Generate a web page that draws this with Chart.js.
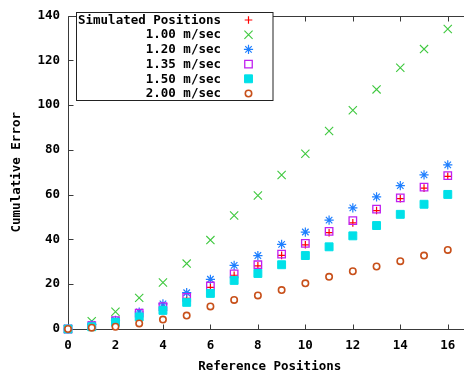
<!DOCTYPE html>
<html>
<head>
<meta charset="utf-8">
<script src="https://cdn.jsdelivr.net/npm/chart.js@4/dist/chart.umd.min.js"></script>
<style>
html,body{margin:0;padding:0;overflow:hidden;background:#fff;width:464px;height:378px;}
#wrap{position:absolute;left:0;top:0;width:480px;height:378px;}
</style>
</head>
<body>
<div id="wrap"><canvas id="c" width="480" height="378"></canvas></div>
<script>
// ---- data ----
const xValues   = [0,1,2,3,4,5,6,7,8,9,10,11,12,13,14,15,16];
const simulated = [0,1.3,3.3,6.8,9.7,13.7,18.6,24.0,28.2,32.9,37.6,43.0,47.4,52.9,58.2,62.9,68.2];
const speed100  = [0,3.5,7.7,13.9,20.8,29.2,39.7,50.7,59.6,68.8,78.3,88.4,97.7,107.0,116.7,125.0,134.0];
const speed120  = [0,2.0,3.9,7.6,11.2,16.2,22.2,28.4,32.8,37.8,43.3,48.6,54.1,59.0,64.0,68.8,73.3];
const speed135  = [0,1.5,3.7,7.1,10.0,14.1,19.2,24.6,28.7,33.4,38.2,43.6,48.4,53.5,58.6,63.4,68.5];
const speed150  = [0,1.0,3.0,5.4,8.3,11.9,15.9,21.7,24.8,28.7,32.8,36.7,41.6,46.2,51.2,55.7,60.1];
const speed200  = [0,0.6,1.0,2.5,4.2,6.0,10.1,13.0,15.0,17.4,20.4,23.3,25.8,27.9,30.3,32.8,35.3];
const seriesLabels = ['Simulated Positions','1.00 m/sec','1.20 m/sec','1.35 m/sec','1.50 m/sec','2.00 m/sec'];
const xTicks = [0,2,4,6,8,10,12,14,16];
const yTicks = [0,20,40,60,80,100,120,140];

const FONT = "'DejaVu Sans Mono','Liberation Mono',monospace";
const fontSpec = {family: FONT, size: 12.5, weight: 'bold'};

const series = [simulated, speed100, speed120, speed135, speed150, speed200];
const styles = [
  {pointStyle:'cross',    radius:3.8, border:'#ff0000', bg:'rgba(0,0,0,0)', bw:1.2},
  {pointStyle:'crossRot', radius:5.8, border:'#3ec83e', bg:'rgba(0,0,0,0)', bw:1.1},
  {pointStyle:'star',     radius:4.6, border:'#1e7fff', bg:'rgba(0,0,0,0)', bw:1.2},
  {pointStyle:'rect',     radius:5.3, border:'#c020f0', bg:'rgba(0,0,0,0)', bw:1.3},
  {pointStyle:'rect',     radius:5.6, border:'#00e0e8', bg:'#00e0e8', bw:1},
  {pointStyle:'circle',   radius:3.2, border:'#c8501a', bg:'#ffffff', bw:1.6}
];

const datasets = series.map((vals, i) => ({
  label: seriesLabels[i],
  data: xValues.map((x, k) => ({x: x, y: vals[k]})),
  showLine: false,
  pointStyle: styles[i].pointStyle,
  pointRadius: styles[i].radius,
  pointBorderColor: styles[i].border,
  pointBackgroundColor: styles[i].bg,
  pointBorderWidth: styles[i].bw,
  borderColor: styles[i].border,
  backgroundColor: styles[i].bg,
  order: series.length - i,
  clip: false
}));

function drawMarker(ctx, st, x, y) {
  ctx.save();
  ctx.strokeStyle = st.border;
  ctx.fillStyle = st.bg;
  ctx.lineWidth = st.bw;
  if (Chart.helpers && Chart.helpers.drawPoint) {
    Chart.helpers.drawPoint(ctx, {pointStyle: st.pointStyle, rotation: 0, radius: st.radius, borderWidth: st.bw}, x, y);
  }
  ctx.restore();
}

const framePlugin = {
  id: 'frame',
  beforeDatasetsDraw(chart) {
    const {ctx, chartArea: a, scales} = chart;
    ctx.save();
    ctx.strokeStyle = '#3a3a3a';
    ctx.lineWidth = 1;
    const L = Math.round(a.left) + 0.5, R = Math.round(a.right) + 0.5;
    const T = Math.round(a.top) + 0.5, B = Math.round(a.bottom) + 0.5;
    ctx.beginPath();
    ctx.rect(L, T, R - L, B - T);
    const tl = 5;
    xTicks.forEach(v => {
      const px = Math.round(scales.x.getPixelForValue(v)) + 0.5;
      ctx.moveTo(px, B); ctx.lineTo(px, B - tl);
      ctx.moveTo(px, T); ctx.lineTo(px, T + tl);
    });
    yTicks.forEach(v => {
      const py = Math.round(scales.y.getPixelForValue(v)) + 0.5;
      ctx.moveTo(L, py); ctx.lineTo(L + tl, py);
      ctx.moveTo(R, py); ctx.lineTo(R - tl, py);
    });
    ctx.stroke();
    ctx.restore();
  },
  afterDraw(chart) {
    const {ctx} = chart;
    ctx.save();
    const bx = 76.5, by = 12.5, bw = 196.5, bh = 88;
    ctx.fillStyle = '#ffffff';
    ctx.fillRect(bx, by, bw, bh);
    ctx.strokeStyle = '#222';
    ctx.lineWidth = 1;
    ctx.strokeRect(bx, by, bw, bh);
    ctx.font = 'bold 12.5px ' + FONT;
    ctx.fillStyle = '#000';
    ctx.textAlign = 'right';
    ctx.textBaseline = 'middle';
    chart.data.datasets.forEach((ds, i) => {
      const y = 20 + i * 14.7;
      ctx.fillText(ds.label, 221, y + 0.5);
      drawMarker(ctx, styles[i], 248.5, y);
    });
    ctx.restore();
  }
};

new Chart(document.getElementById('c'), {
  type: 'scatter',
  data: {datasets},
  plugins: [framePlugin],
  options: {
    responsive: false,
    animation: false,
    devicePixelRatio: 1,
    layout: {padding: {top: 8.7, right: 8.5, left: 0, bottom: 0}},
    plugins: {legend: {display: false}, tooltip: {enabled: false}},
    scales: {
      x: {
        type: 'linear', min: 0, max: 17,
        grid: {display: false, drawTicks: false},
        border: {display: false},
        afterBuildTicks: s => { s.ticks = xTicks.map(v => ({value: v})); },
        afterFit: s => { s.height = 49; },
        ticks: {color: '#000', font: fontSpec, padding: 9, maxRotation: 0, autoSkip: false},
        title: {display: true, text: 'Reference Positions', color: '#000', font: fontSpec, padding: {top: 0, bottom: 4}}
      },
      y: {
        type: 'linear', min: 0, max: 140,
        grid: {display: false, drawTicks: false},
        border: {display: false},
        afterBuildTicks: s => { s.ticks = yTicks.map(v => ({value: v})); },
        afterFit: s => { s.width = 68; },
        ticks: {color: '#000', font: fontSpec, padding: 8, autoSkip: false},
        title: {display: true, text: 'Cumulative Error', color: '#000', font: fontSpec, padding: {top: 9, bottom: 0}}
      }
    }
  }
});
</script>
</body>
</html>
